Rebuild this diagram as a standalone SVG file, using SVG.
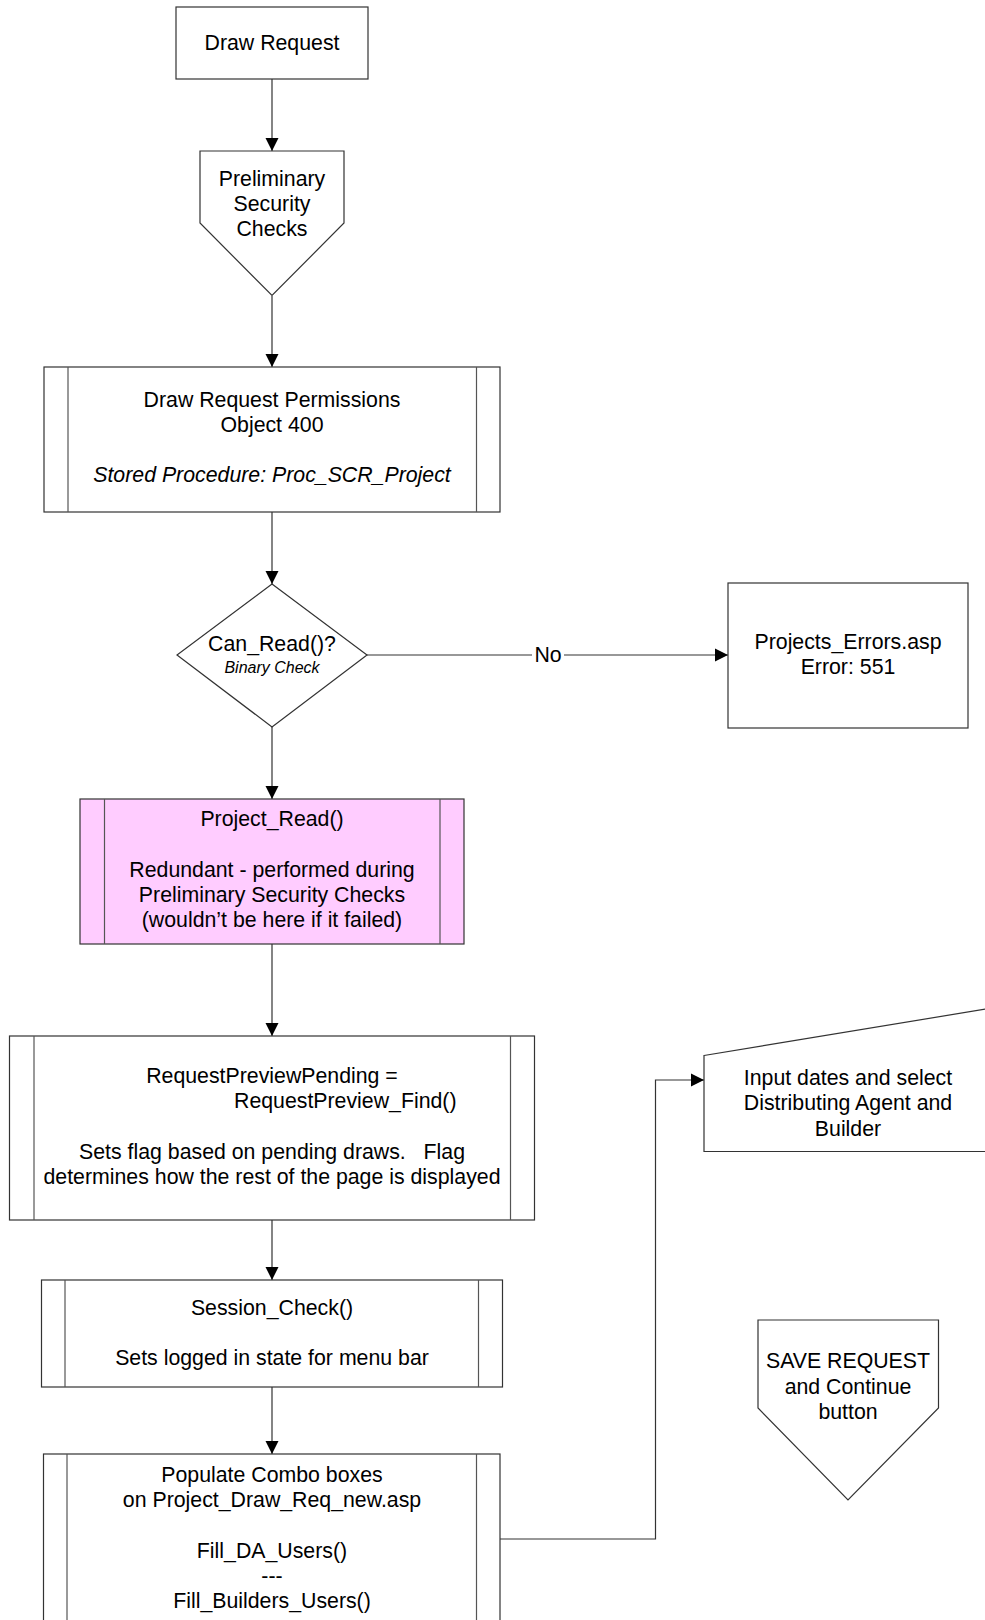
<svg xmlns="http://www.w3.org/2000/svg" width="985" height="1620" viewBox="0 0 985 1620">
<style>
.box{fill:#fff;stroke:#333;stroke-width:1.2}
.pink{fill:#ffccff;stroke:#333;stroke-width:1.2}
.inner{stroke:#555;stroke-width:1.2;fill:none}
.t{font-family:"Liberation Sans",Arial,sans-serif;font-size:21.3px;fill:#000;text-anchor:middle}
.ti{font-family:"Liberation Sans",Arial,sans-serif;font-size:16px;font-style:italic;fill:#000;text-anchor:middle}
.tit{font-style:italic}
.c{stroke:#333;stroke-width:1.2;fill:none;marker-end:url(#arr)}
</style>
<defs>
<marker id="arr" markerUnits="userSpaceOnUse" markerWidth="14" markerHeight="14" viewBox="0 0 14 14" refX="13" refY="7" orient="auto">
<path d="M0,0.5 L13,7 L0,13.5 z" fill="#000"/>
</marker>
</defs>
<rect width="985" height="1620" fill="#fff"/>

<g id="connectors">
<line class="c" x1="272" y1="79" x2="272" y2="151"/>
<line class="c" x1="272" y1="296" x2="272" y2="367"/>
<line class="c" x1="272" y1="512" x2="272" y2="584"/>
<line class="c" x1="367" y1="655" x2="728" y2="655"/>
<line class="c" x1="272" y1="727" x2="272" y2="799"/>
<line class="c" x1="272" y1="944" x2="272" y2="1036"/>
<line class="c" x1="272" y1="1220" x2="272" y2="1280"/>
<line class="c" x1="272" y1="1387" x2="272" y2="1454"/>
<polyline class="c" points="500,1539 655.5,1539 655.5,1080 704,1080"/>
<rect x="532" y="642" width="32" height="26" fill="#fff"/>
<text class="t" x="548" y="662">No</text>
</g>

<g id="draw-request">
<rect class="box" x="176" y="7" width="192" height="72"/>
<text class="t" x="272" y="50">Draw Request</text>
</g>

<g id="preliminary-security-checks">
<polygon class="box" points="200,151 344,151 344,223 272,295.5 200,223"/>
<text class="t" x="272" y="186">Preliminary</text>
<text class="t" x="272" y="211">Security</text>
<text class="t" x="272" y="236">Checks</text>
</g>

<g id="draw-request-permissions">
<rect class="box" x="44" y="367" width="456" height="145"/>
<line class="inner" x1="68" y1="367" x2="68" y2="512"/>
<line class="inner" x1="476.5" y1="367" x2="476.5" y2="512"/>
<text class="t" x="272" y="407">Draw Request Permissions</text>
<text class="t" x="272" y="432">Object 400</text>
<text class="t tit" x="272" y="482">Stored Procedure: Proc_SCR_Project</text>
</g>

<g id="can-read">
<polygon class="box" points="272,584 367,655 272,727 177,655"/>
<text class="t" x="272" y="651">Can_Read()?</text>
<text class="ti" x="272" y="673">Binary Check</text>
</g>

<g id="projects-errors">
<rect class="box" x="728" y="583" width="240" height="145"/>
<text class="t" x="848" y="649">Projects_Errors.asp</text>
<text class="t" x="848" y="674">Error: 551</text>
</g>

<g id="project-read">
<rect class="pink" x="80" y="799" width="384" height="145"/>
<line class="inner" x1="104.5" y1="799" x2="104.5" y2="944"/>
<line class="inner" x1="440" y1="799" x2="440" y2="944"/>
<text class="t" x="272" y="826">Project_Read()</text>
<text class="t" x="272" y="877">Redundant - performed during</text>
<text class="t" x="272" y="902">Preliminary Security Checks</text>
<text class="t" x="272" y="927">(wouldn’t be here if it failed)</text>
</g>

<g id="request-preview">
<rect class="box" x="9.5" y="1036" width="525" height="184"/>
<line class="inner" x1="34" y1="1036" x2="34" y2="1220"/>
<line class="inner" x1="510.5" y1="1036" x2="510.5" y2="1220"/>
<text class="t" x="272" y="1083">RequestPreviewPending =</text>
<text class="t" x="234" y="1108" style="text-anchor:start">RequestPreview_Find()</text>
<text class="t" x="272" y="1159" xml:space="preserve">Sets flag based on pending draws.   Flag</text>
<text class="t" x="272" y="1184">determines how the rest of the page is displayed</text>
</g>

<g id="session-check">
<rect class="box" x="41.5" y="1280" width="461" height="107"/>
<line class="inner" x1="65" y1="1280" x2="65" y2="1387"/>
<line class="inner" x1="478.5" y1="1280" x2="478.5" y2="1387"/>
<text class="t" x="272" y="1315">Session_Check()</text>
<text class="t" x="272" y="1365">Sets logged in state for menu bar</text>
</g>

<g id="populate-combo">
<rect class="box" x="43.5" y="1454" width="456.5" height="200"/>
<line class="inner" x1="67" y1="1454" x2="67" y2="1654"/>
<line class="inner" x1="476.5" y1="1454" x2="476.5" y2="1654"/>
<text class="t" x="272" y="1482">Populate Combo boxes</text>
<text class="t" x="272" y="1507">on Project_Draw_Req_new.asp</text>
<text class="t" x="272" y="1558">Fill_DA_Users()</text>
<text class="t" x="272" y="1583">---</text>
<text class="t" x="272" y="1608">Fill_Builders_Users()</text>
</g>

<g id="input-dates">
<polygon class="box" points="704,1055.5 992,1008 992,1151.5 704,1151.5"/>
<text class="t" x="848" y="1085">Input dates and select</text>
<text class="t" x="848" y="1110">Distributing Agent and</text>
<text class="t" x="848" y="1136">Builder</text>
</g>

<g id="save-request">
<polygon class="box" points="758,1320 938.5,1320 938.5,1408 848,1500 758,1408"/>
<text class="t" x="848" y="1368">SAVE REQUEST</text>
<text class="t" x="848" y="1394">and Continue</text>
<text class="t" x="848" y="1419">button</text>
</g>
</svg>
